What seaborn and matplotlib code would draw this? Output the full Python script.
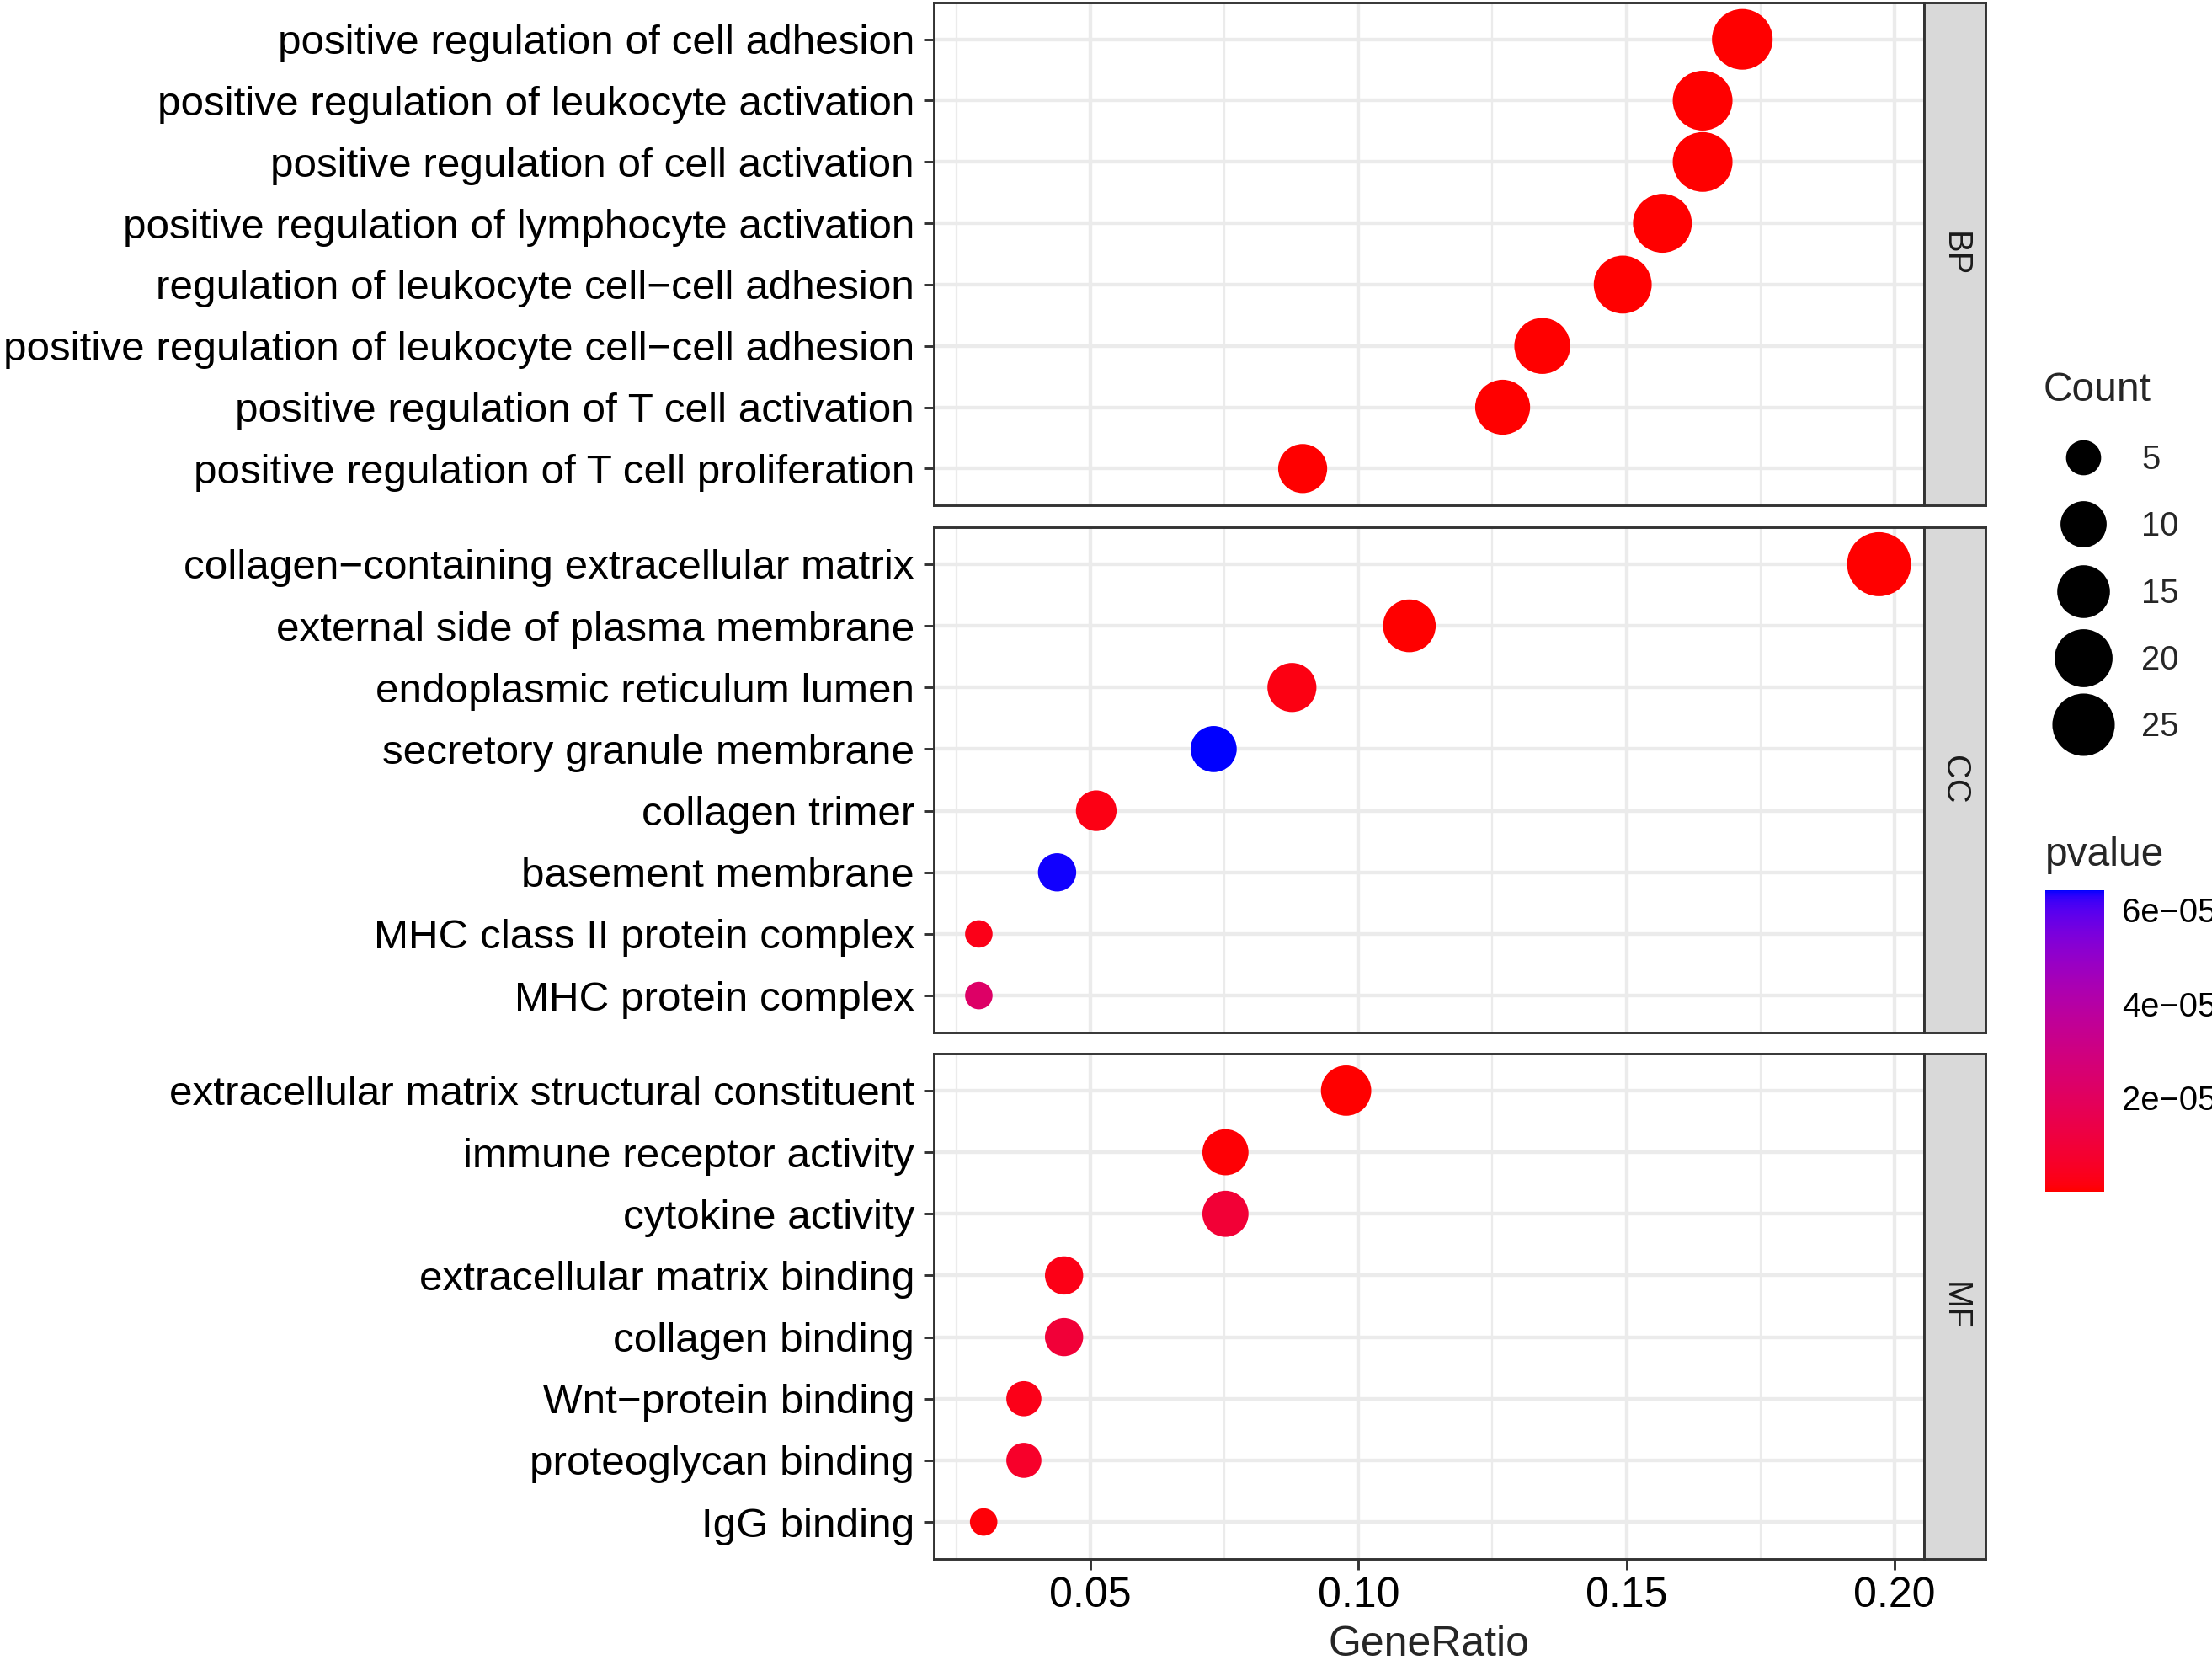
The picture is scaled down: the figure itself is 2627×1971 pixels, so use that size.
import numpy as np
import pandas as pd
import matplotlib
matplotlib.use("Agg")
import matplotlib.pyplot as plt
import seaborn as sns
from matplotlib.colors import ListedColormap, Normalize
from matplotlib.cm import ScalarMappable
from matplotlib.lines import Line2D
from matplotlib.ticker import MultipleLocator, FormatStrFormatter

# ---- data (top to bottom within each panel) ----
categories = ["BP", "CC", "MF"]

bp_terms = [
    "positive regulation of cell adhesion",
    "positive regulation of leukocyte activation",
    "positive regulation of cell activation",
    "positive regulation of lymphocyte activation",
    "regulation of leukocyte cell\u2212cell adhesion",
    "positive regulation of leukocyte cell\u2212cell adhesion",
    "positive regulation of T cell activation",
    "positive regulation of T cell proliferation",
]
bp_ratio = [0.1716, 0.1642, 0.1642, 0.1567, 0.1493, 0.1343, 0.1269, 0.0896]
bp_count = [23, 22, 22, 21, 20, 18, 17, 12]
bp_pvalue = [2.3e-11, 8.1e-11, 3.3e-10, 1.1e-09, 6.0e-10, 2.6e-09, 4.0e-09, 9.5e-08]

cc_terms = [
    "collagen\u2212containing extracellular matrix",
    "external side of plasma membrane",
    "endoplasmic reticulum lumen",
    "secretory granule membrane",
    "collagen trimer",
    "basement membrane",
    "MHC class II protein complex",
    "MHC protein complex",
]
cc_ratio = [0.1971, 0.1095, 0.0876, 0.0730, 0.0511, 0.0438, 0.0292, 0.0292]
cc_count = [27, 15, 12, 10, 7, 6, 4, 4]
cc_pvalue = [1.2e-12, 1.5e-07, 2.2e-06, 6.42e-05, 2.4e-06, 6.37e-05, 3.0e-06, 2.25e-05]

mf_terms = [
    "extracellular matrix structural constituent",
    "immune receptor activity",
    "cytokine activity",
    "extracellular matrix binding",
    "collagen binding",
    "Wnt\u2212protein binding",
    "proteoglycan binding",
    "IgG binding",
]
mf_ratio = [0.0977, 0.0752, 0.0752, 0.0451, 0.0451, 0.0376, 0.0376, 0.0301]
mf_count = [13, 10, 10, 6, 6, 5, 5, 4]
mf_pvalue = [8.0e-09, 6.5e-07, 9.5e-06, 2.6e-06, 1.0e-05, 3.0e-06, 6.5e-06, 8.0e-07]

legend_counts = [5, 10, 15, 20, 25]
pvalue_ticks = [2e-05, 4e-05, 6e-05]
pvalue_labels = ["2e\u221205", "4e\u221205", "6e\u221205"]

df = pd.concat([
    pd.DataFrame({"Description": bp_terms, "GeneRatio": bp_ratio, "Count": bp_count,
                  "pvalue": bp_pvalue, "ONTOLOGY": "BP"}),
    pd.DataFrame({"Description": cc_terms, "GeneRatio": cc_ratio, "Count": cc_count,
                  "pvalue": cc_pvalue, "ONTOLOGY": "CC"}),
    pd.DataFrame({"Description": mf_terms, "GeneRatio": mf_ratio, "Count": mf_count,
                  "pvalue": mf_pvalue, "ONTOLOGY": "MF"}),
], ignore_index=True)


# ---- red -> blue gradient interpolated in CIELAB (like ggplot) ----
M = np.array([[0.4124564, 0.3575761, 0.1804375],
              [0.2126729, 0.7151522, 0.0721750],
              [0.0193339, 0.1191920, 0.9503041]])
WHITE = np.array([0.95047, 1.0, 1.08883])


def rgb_to_lab(rgb):
    c = np.asarray(rgb, float)
    c = np.where(c > 0.04045, ((c + 0.055) / 1.055) ** 2.4, c / 12.92)
    xyz = M @ c / WHITE
    f = np.where(xyz > (6 / 29) ** 3, np.cbrt(xyz), xyz / (3 * (6 / 29) ** 2) + 4 / 29)
    return np.array([116 * f[1] - 16, 500 * (f[0] - f[1]), 200 * (f[1] - f[2])])


def lab_to_rgb(lab):
    L, a, b = lab
    fl = (L + 16) / 116
    f = np.array([fl + a / 500, fl, fl - b / 200])
    xyz = np.where(f > 6 / 29, f ** 3, 3 * (6 / 29) ** 2 * (f - 4 / 29)) * WHITE
    c = np.clip(np.linalg.solve(M, xyz), 0, 1)
    c = np.where(c > 0.0031308, 1.055 * c ** (1 / 2.4) - 0.055, 12.92 * c)
    return np.clip(c, 0, 1)


lab_lo, lab_hi = rgb_to_lab([1, 0, 0]), rgb_to_lab([0, 0, 1])
cmap = ListedColormap([lab_to_rgb(lab_lo + t * (lab_hi - lab_lo)) for t in np.linspace(0, 1, 256)])
norm = Normalize(vmin=df["pvalue"].min(), vmax=df["pvalue"].max())

# ---- point size: diameter linear in sqrt of rescaled count (ggplot scale_size) ----
DPI = 300
W, H = 2627, 1971
D_LO, D_HI = 32.6, 76.0  # px
c_lo, c_hi = df["Count"].min(), df["Count"].max()


def diam_pt(c):
    d_px = D_LO + (D_HI - D_LO) * np.sqrt((c - c_lo) / (c_hi - c_lo))
    return d_px * 72 / DPI


sns.set_style("white")
plt.rcParams["font.family"] = ["Liberation Sans", "DejaVu Sans"]

fig = plt.figure(figsize=(W / DPI, H / DPI), dpi=DPI)

panels = {"BP": (3, 600), "CC": (626, 1226), "MF": (1251, 1851)}
left_px, right_px, strip_px = 1109, 2285, 2358

lo, hi = df["GeneRatio"].min(), df["GeneRatio"].max()
xlim = (lo - 0.05 * (hi - lo), hi + 0.05 * (hi - lo))
border = "#333333"

for i, cat in enumerate(categories):
    top, bot = panels[cat]
    ax = fig.add_axes([left_px / W, 1 - bot / H, (right_px - left_px) / W, (bot - top) / H])
    sub = df[df["ONTOLOGY"] == cat].iloc[::-1]
    sizes = {c: diam_pt(c) ** 2 for c in sub["Count"].unique()}
    sns.scatterplot(data=sub, x="GeneRatio", y="Description", hue="pvalue", palette=cmap,
                    hue_norm=norm, size="Count", sizes=sizes, legend=False,
                    linewidth=0, ax=ax, zorder=3)
    ax.set_xlim(xlim)
    ax.set_ylim(-0.6, len(sub) - 0.4)
    ax.xaxis.set_major_locator(MultipleLocator(0.05))
    ax.xaxis.set_minor_locator(MultipleLocator(0.025))
    ax.xaxis.set_major_formatter(FormatStrFormatter("%.2f"))
    ax.set_axisbelow(True)
    ax.grid(which="major", color="#EBEBEB", linewidth=1.05)
    ax.grid(which="minor", axis="x", color="#EBEBEB", linewidth=0.55)
    for s in ax.spines.values():
        s.set_color(border)
        s.set_linewidth(0.7)
    ax.tick_params(axis="y", which="major", left=True, length=3.0, width=0.7, color=border,
                   labelsize=11.85, labelcolor="black", pad=2.5)
    ax.tick_params(axis="x", which="minor", bottom=False)
    ax.set_ylabel("")
    if i < len(categories) - 1:
        ax.tick_params(axis="x", which="major", bottom=False, labelbottom=False)
        ax.set_xlabel("")
    else:
        ax.tick_params(axis="x", which="major", bottom=True, length=3.0, width=0.7,
                       color=border, labelsize=12, labelcolor="black", pad=2)
        ax.set_xlabel("GeneRatio", fontsize=12, labelpad=3)

    sax = fig.add_axes([right_px / W, 1 - bot / H, (strip_px - right_px) / W, (bot - top) / H])
    sax.set_facecolor("#D9D9D9")
    sax.set_xticks([])
    sax.set_yticks([])
    for s in sax.spines.values():
        s.set_color(border)
        s.set_linewidth(0.7)
    sax.text(0.5, 0.5, cat, rotation=-90, ha="center", va="center", fontsize=9.6,
             color="#1A1A1A", transform=sax.transAxes)

# ---- Count legend ----
handles = [Line2D([], [], marker="o", linestyle="", markersize=diam_pt(c),
                  markerfacecolor="black", markeredgewidth=0, color="black")
           for c in legend_counts]
fig.legend(handles, [str(c) for c in legend_counts], title="Count", loc="upper left",
           bbox_to_anchor=(2427 / W, 1 - 441 / H), frameon=False, fontsize=9.6,
           title_fontsize=11.5, alignment="left", borderpad=0, borderaxespad=0,
           labelspacing=1.03, handlelength=2.35, handletextpad=0.55)

# ---- pvalue colourbar ----
cax = fig.add_axes([2429 / W, 1 - 1415 / H, 70 / W, 358 / H])
cb = fig.colorbar(ScalarMappable(norm=norm, cmap=cmap), cax=cax)
cb.outline.set_visible(False)
cb.minorticks_off()
cb.set_ticks(pvalue_ticks)
cb.set_ticklabels(pvalue_labels)
cax.tick_params(axis="y", which="major", left=True, right=True, labelleft=False,
                labelright=True, direction="in", length=3.4, width=0.6, color="white",
                labelsize=9.6, labelcolor="black", pad=5)
fig.text(2429 / W, 1 - 1015 / H, "pvalue", ha="left", va="center", fontsize=11.5)

fig.savefig("out.png", dpi=DPI)
